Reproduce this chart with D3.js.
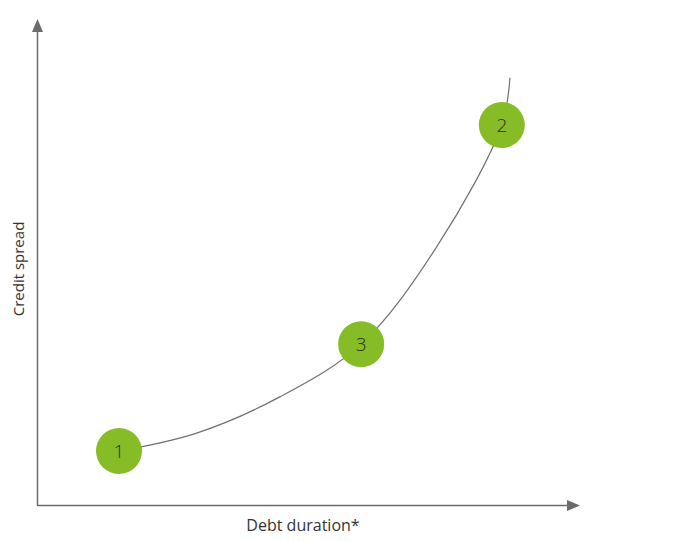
<!DOCTYPE html>
<html>
<head>
<meta charset="utf-8">
<script src="https://cdn.jsdelivr.net/npm/d3@7"></script>
<style>
  body { margin: 0; background: #fff; }
  text { font-family: "Open Sans", sans-serif; fill: #333; }
</style>
</head>
<body>
<div id="chart"></div>
<script>
// curve through the chart, in 0..100 units on both axes
let curveX = [15.1, 29.4, 44.8, 59.7, 73.6, 85.6, 87.1];
let curveY = [11.1, 14.8, 22.3, 33.1, 53.1, 78.2, 87.9];

// numbered points on the curve
let pointLabels = ["1", "3", "2"];
let pointX = [15.1, 59.7, 85.6];
let pointY = [11.1, 33.1, 78.2];

let xTitle = "Debt duration*";
let yTitle = "Credit spread";

let width = 684, height = 541;
let margin = {left: 37, right: 104, top: 19, bottom: 36};

let svg = d3.select("#chart")
    .append("svg")
    .attr("width", width)
    .attr("height", height);

let x = d3.scaleLinear().domain([0, 100]).range([margin.left, width - margin.right]);
let y = d3.scaleLinear().domain([0, 100]).range([height - margin.bottom, margin.top]);

let axisColor = "#6b6b6b";
let arrowLen = 13, arrowHalf = 5.5;

// x axis, no ticks
let xAxis = svg.append("g")
    .attr("transform", `translate(0, ${y(0) + 0.5})`)
    .call(d3.axisBottom(x).tickValues([]).tickSizeOuter(0));
xAxis.select(".domain")
    .attr("d", `M${x(0)},0H${x(100) - arrowLen}`)
    .attr("stroke", axisColor)
    .attr("stroke-width", 1.5);

// y axis, no ticks
let yAxis = svg.append("g")
    .attr("transform", `translate(${x(0) + 0.5}, 0)`)
    .call(d3.axisLeft(y).tickValues([]).tickSizeOuter(0));
yAxis.select(".domain")
    .attr("d", `M0,${y(0) + 0.75}V${y(100) + arrowLen}`)
    .attr("stroke", axisColor)
    .attr("stroke-width", 1.5);

// arrow heads
svg.append("path")
    .attr("d", `M${x(100)},${y(0) + 0.5}L${x(100) - arrowLen},${y(0) + 0.5 - arrowHalf}L${x(100) - arrowLen},${y(0) + 0.5 + arrowHalf}Z`)
    .attr("fill", axisColor);
svg.append("path")
    .attr("d", `M${x(0) + 0.5},${y(100)}L${x(0) + 0.5 - arrowHalf},${y(100) + arrowLen}L${x(0) + 0.5 + arrowHalf},${y(100) + arrowLen}Z`)
    .attr("fill", axisColor);

// curve
let line = d3.line()
    .x(function(d) { return x(d[0]); })
    .y(function(d) { return y(d[1]); })
    .curve(d3.curveCatmullRom.alpha(0.5));

svg.append("path")
    .datum(curveX.map(function(v, i) { return [v, curveY[i]]; }))
    .attr("d", line)
    .attr("fill", "none")
    .attr("stroke", "#707070")
    .attr("stroke-width", 1.2);

// numbered circles
let pts = pointLabels.map(function(l, i) { return {label: l, x: pointX[i], y: pointY[i]}; });

let nodes = svg.selectAll(".pt").data(pts).enter()
    .append("g")
    .attr("class", "pt")
    .attr("transform", function(d) { return `translate(${x(d.x)}, ${y(d.y)})`; });

nodes.append("circle")
    .attr("r", 23)
    .attr("fill", "#86BC25");

nodes.append("text")
    .attr("text-anchor", "middle")
    .attr("dy", "0.35em")
    .style("font-size", "19px")
    .style("font-weight", 300)
    .style("fill", "#2b2b2b")
    .text(function(d) { return d.label; });

// axis titles
svg.append("text")
    .attr("x", 303)
    .attr("y", 531)
    .attr("text-anchor", "middle")
    .style("font-size", "16px")
    .text(xTitle);

svg.append("text")
    .attr("transform", "translate(24, 269) rotate(-90)")
    .attr("text-anchor", "middle")
    .style("font-size", "15px")
    .text(yTitle);
</script>
</body>
</html>
